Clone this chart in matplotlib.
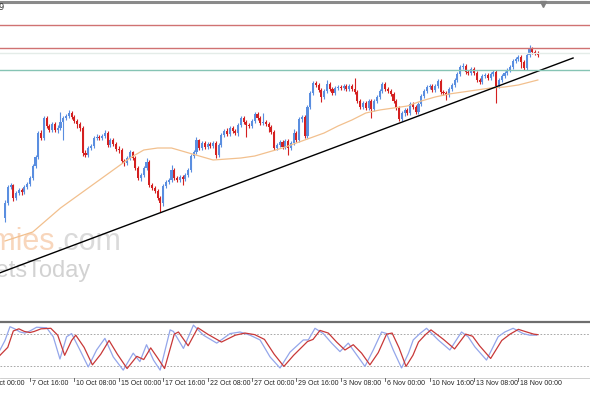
import matplotlib.pyplot as plt
import numpy as np

# H4 candles, values in index points (no price scale is visible in the picture)
first_open = 2932
closes = [2947, 2963, 2965, 2952, 2957, 2960, 2958, 2963, 2966, 2972,
          2984, 2993, 3017, 3012, 3032, 3024, 3020, 3026, 3020, 3022,
          3028, 3032, 3034, 3037, 3033, 3029, 3026, 3022, 2997, 2995,
          3002, 3004, 3012, 3013, 3012, 3014, 3017, 3005, 3010, 3006,
          3001, 3000, 2989, 2987, 2992, 2998, 2992, 2982, 2972, 2975,
          2982, 2988, 2965, 2962, 2959, 2952, 2947, 2964, 2968, 2970,
          2980, 2972, 2970, 2973, 2971, 2975, 2980, 2994, 2998, 3010,
          3002, 3007, 3003, 3006, 3004, 3007, 2995, 3005, 3015, 3019,
          3016, 3022, 3019, 3017, 3025, 3032, 3028, 3025, 3024, 3029,
          3036, 3032, 3027, 3028, 3026, 3023, 3018, 3002, 3005, 3008,
          3003, 3009, 3002, 3007, 3017, 3010, 3031, 3033, 3014, 3043,
          3057, 3067, 3065, 3060, 3053, 3059, 3066, 3061, 3057, 3062,
          3063, 3062, 3064, 3061, 3064, 3061, 3058, 3049, 3043, 3047,
          3042, 3049, 3041, 3049, 3053, 3059, 3066, 3061, 3059, 3056,
          3049, 3042, 3031, 3037, 3040, 3037, 3046, 3043, 3038, 3046,
          3054, 3059, 3063, 3064, 3060, 3064, 3069, 3058, 3057, 3055,
          3061, 3065, 3070, 3076, 3083, 3084, 3078, 3077, 3081, 3077,
          3070, 3068, 3074, 3075, 3072, 3076, 3078, 3064, 3070, 3074,
          3077, 3080, 3083, 3089, 3091, 3093, 3088, 3082, 3095, 3101,
          3098, 3097, 3095]
highs = [2950, 2965, 2967, 2966, 2959, 2962, 2962, 2965, 2968, 2974,
         2986, 2995, 3019, 3020, 3034, 3034, 3026, 3028, 3028, 3025,
         3038, 3034, 3036, 3040, 3039, 3035, 3031, 3028, 3024, 3000,
         3004, 3006, 3014, 3016, 3015, 3016, 3020, 3019, 3012, 3012,
         3008, 3004, 3002, 2991, 2994, 3000, 2999, 2994, 2984, 2977,
         2984, 2992, 2990, 2967, 2964, 2961, 2954, 2966, 2970, 2972,
         2985, 2982, 2974, 2975, 2975, 2977, 2982, 2996, 3000, 3013,
         3011, 3009, 3009, 3008, 3008, 3009, 3009, 3007, 3017, 3021,
         3022, 3024, 3024, 3021, 3027, 3034, 3034, 3030, 3027, 3031,
         3038, 3038, 3034, 3037, 3030, 3028, 3025, 3020, 3007, 3010,
         3010, 3011, 3011, 3009, 3021, 3019, 3033, 3035, 3035, 3045,
         3059, 3069, 3069, 3067, 3062, 3061, 3070, 3068, 3063, 3064,
         3065, 3065, 3066, 3066, 3066, 3066, 3072, 3060, 3051, 3049,
         3049, 3051, 3051, 3051, 3055, 3061, 3068, 3068, 3063, 3061,
         3058, 3051, 3044, 3039, 3042, 3042, 3048, 3048, 3045, 3048,
         3056, 3061, 3065, 3066, 3066, 3066, 3071, 3071, 3060, 3059,
         3063, 3067, 3072, 3078, 3085, 3087, 3086, 3080, 3083, 3083,
         3079, 3072, 3076, 3077, 3077, 3078, 3080, 3080, 3072, 3076,
         3079, 3082, 3085, 3091, 3093, 3095, 3095, 3090, 3097, 3105,
         3103, 3100, 3099]
lows = [2928, 2945, 2961, 2949, 2950, 2955, 2955, 2956, 2961, 2964,
        2970, 2982, 2991, 3010, 3010, 3022, 3018, 3018, 3018, 3017,
        3020, 3010, 3030, 3032, 3031, 3027, 3022, 3019, 2994, 2993,
        2993, 3000, 3002, 3010, 3010, 3010, 3012, 3003, 3003, 3004,
        2999, 2997, 2987, 2984, 2985, 2990, 2990, 2980, 2970, 2969,
        2973, 2980, 2963, 2960, 2957, 2950, 2938, 2944, 2962, 2966,
        2968, 2970, 2968, 2968, 2965, 2969, 2973, 2978, 2992, 2996,
        3000, 3000, 3001, 3001, 3002, 3002, 2992, 2993, 3003, 3013,
        3014, 3014, 3017, 3015, 3014, 3023, 3026, 3013, 3022, 3022,
        3027, 3030, 3025, 3025, 3024, 3018, 3016, 3000, 3000, 3003,
        3001, 3001, 2995, 3000, 3005, 3008, 3008, 3028, 3012, 3012,
        3041, 3055, 3063, 3058, 3048, 3051, 3057, 3059, 3055, 3055,
        3060, 3060, 3060, 3059, 3059, 3059, 3056, 3047, 3041, 3041,
        3040, 3040, 3032, 3039, 3047, 3051, 3057, 3059, 3057, 3054,
        3047, 3040, 3029, 3029, 3034, 3035, 3035, 3041, 3036, 3036,
        3044, 3052, 3057, 3061, 3058, 3058, 3062, 3056, 3055, 3050,
        3053, 3059, 3063, 3068, 3074, 3081, 3076, 3075, 3075, 3075,
        3068, 3066, 3066, 3072, 3070, 3070, 3074, 3047, 3062, 3068,
        3072, 3075, 3078, 3081, 3087, 3089, 3082, 3080, 3080, 3093,
        3096, 3095, 3093]
opens = [first_open] + closes[:-1]

# moving average read at some bars
ma_idx = [0, 10, 20, 30, 40, 45, 50, 55, 60, 65, 70, 75, 80, 85, 90, 95, 100,
          105, 110, 115, 120, 125, 130, 135, 140, 145, 150, 155, 160, 165,
          170, 175, 180, 185, 192]
ma_val = [2909, 2918, 2942, 2962, 2982, 2992, 3000, 3002, 3002, 2998, 2994,
          2990, 2991, 2992, 2994, 2998, 3002, 3007, 3012, 3017, 3024, 3030,
          3037, 3040, 3042, 3044, 3049, 3053, 3056, 3058, 3060, 3062, 3063,
          3065, 3070]

# trendline and horizontal levels
trend_idx = [-2, 204.7]
trend_val = [2877, 3092]
resist_levels = [3125, 3102]
support_level = 3080
faint_level = 3097.5

# stochastic %K (main) and %D (signal)
k_idx = [-1.8, 0, 1.8, 3.5, 5.4, 7.2, 9, 11.4, 15, 17.4, 19.8, 22.2, 24, 27,
         30, 33, 36, 39, 42.6, 46.2, 48.6, 51, 53.5, 55.9, 59.5, 60.7, 64.3,
         67.9, 71.5, 76.3, 81.1, 84.7, 88.3, 91.9, 95.5, 99.1, 102.7, 107.5,
         109.3, 111.7, 114.7, 117.7, 120.7, 123.7, 126.7, 129.7, 132.7, 135.7,
         137.5, 139.9, 142.9, 145.4, 147.1, 149.5, 151.9, 156.1, 160.3, 164.5,
         166.9, 169.3, 173.5, 177.7, 180.1, 183.1, 186.7, 189.1, 191.5]
k_val = [50, 68, 94, 90, 84, 82, 86, 93, 92, 75, 33, 75, 81, 50, 18, 50, 72,
         37, 12, 44, 28, 60, 31, 12, 88, 85, 53, 97, 78, 63, 81, 84, 78, 69,
         37, 16, 46, 69, 69, 91, 81, 63, 47, 63, 41, 19, 50, 84, 81, 50, 16,
         44, 69, 81, 91, 69, 50, 84, 75, 56, 31, 75, 84, 91, 81, 78, 78]
d_idx = [-1.8, 1, 3, 5, 7, 9, 10.5, 13, 16.5, 19, 21.5, 24, 25.5, 28.5, 31.5,
         34.5, 37.5, 40.5, 44, 47.5, 50, 52.5, 55, 57.5, 61, 62.5, 66, 69.5,
         73, 78, 83, 86.5, 90, 93.5, 97, 100.5, 104, 109, 111, 113.5, 116.5,
         119.5, 122.5, 125.5, 128.5, 131.5, 134.5, 137.5, 139.5, 142, 144.5,
         147, 149, 151.5, 153.5, 158, 162, 166, 168.5, 171, 175, 179, 182,
         185, 188, 190.5, 192]
d_val = [40, 55, 86, 90, 85, 83, 85, 90, 91, 78, 40, 68, 78, 55, 22, 42, 68,
         42, 15, 38, 32, 54, 35, 15, 80, 84, 58, 92, 80, 65, 78, 82, 79, 70,
         42, 19, 40, 66, 70, 87, 82, 65, 50, 60, 44, 22, 45, 80, 82, 54, 19,
         40, 65, 79, 88, 70, 52, 80, 76, 58, 34, 68, 80, 89, 84, 80, 79]

tick_idx = [-7, 9, 25, 41, 57, 73, 89, 105, 121, 137, 153, 169, 185]
tick_lab = ["3 Oct 00:00", "7 Oct 16:00", "10 Oct 08:00", "15 Oct 00:00",
            "17 Oct 16:00", "22 Oct 08:00", "27 Oct 00:00", "29 Oct 16:00",
            "3 Nov 08:00", "6 Nov 00:00", "10 Nov 16:00", "13 Nov 08:00",
            "18 Nov 00:00"]

W, H = 590, 393
fig = plt.figure(figsize=(W / 100, H / 100), dpi=100)
fig.patch.set_facecolor("white")

ax = fig.add_axes([0, 1 - 321 / H, 1, 318 / H])
axs = fig.add_axes([0, 1 - 377 / H, 1, 54 / H], sharex=ax)
for a in (ax, axs):
    a.set_axis_off()
ax.set_xlim(-1.8, 210.8)
ax.set_ylim(2829, 3147)
axs.set_ylim(-1, 101)

bull, bear = "#5a8ee0", "#d42020"
x = np.arange(len(closes))
for i in x:
    o, c = opens[i], closes[i]
    col = bull if c >= o else bear
    ax.vlines(i, lows[i], highs[i], color=col, lw=0.8)
    ax.bar(i, c - o, bottom=o, width=0.75, color=col, lw=0)

ax.plot(ma_idx, ma_val, color="#f2c08e", lw=0.9)
ax.plot(trend_idx, trend_val, color="black", lw=1)
for lv in resist_levels:
    ax.axhline(lv, color="#d07272", lw=1)
ax.axhline(faint_level, color="#e4ece8", lw=1)
ax.axhline(support_level, color="#86c4b4", lw=1)

# watermark
wm = dict(family="Liberation Sans", va="baseline", zorder=0)
ax.text(18, 2900, "Economies", color="#f8d6bc", fontsize=22, ha="right", **wm)
ax.text(18, 2900, ".com", color="#dadada", fontsize=22, ha="left", **wm)
ax.text(30.6, 2873, "MarketsToday", color="#d2d2d2", fontsize=17, ha="right",
        **wm)

# stochastic
axs.axhline(80, color="#9a9a9a", lw=0.6, ls=(0, (2, 2)))
axs.axhline(20, color="#9a9a9a", lw=0.6, ls=(0, (2, 2)))
axs.plot(k_idx, k_val, color="#94a6ea", lw=0.9)
axs.plot(d_idx, d_val, color="#c83838", lw=0.9)

# frame lines and time axis
def hline_px(y, color, lw):
    fig.add_artist(plt.Line2D([0, 1], [1 - y / H, 1 - y / H], color=color,
                              lw=lw, transform=fig.transFigure))

hline_px(1.5, "#8a8a8a", 2.2)
hline_px(322, "#6e6e6e", 1.6)
hline_px(377.5, "#c8c8c8", 0.6)
fig.add_artist(plt.Line2D([543 / W], [1 - 4 / H], marker="v", color="#808080",
                          ms=4, transform=fig.transFigure))
fig.text(-0.002, 1 - 8 / H, "9", fontsize=6, va="center", color="#333333")

for t, lab in zip(tick_idx, tick_lab):
    xf = (t + 1.8) / 212.6
    fig.add_artist(plt.Line2D([xf, xf], [1 - 378 / H, 1 - 381 / H],
                              color="#555555", lw=0.6,
                              transform=fig.transFigure))
    fig.text(xf + 2 / W, 1 - 383.5 / H, lab, fontsize=5,
             family=["Liberation Sans Narrow", "Liberation Sans"],
             va="center", ha="left", color="#222222")

fig.savefig("out.png", dpi=100)
